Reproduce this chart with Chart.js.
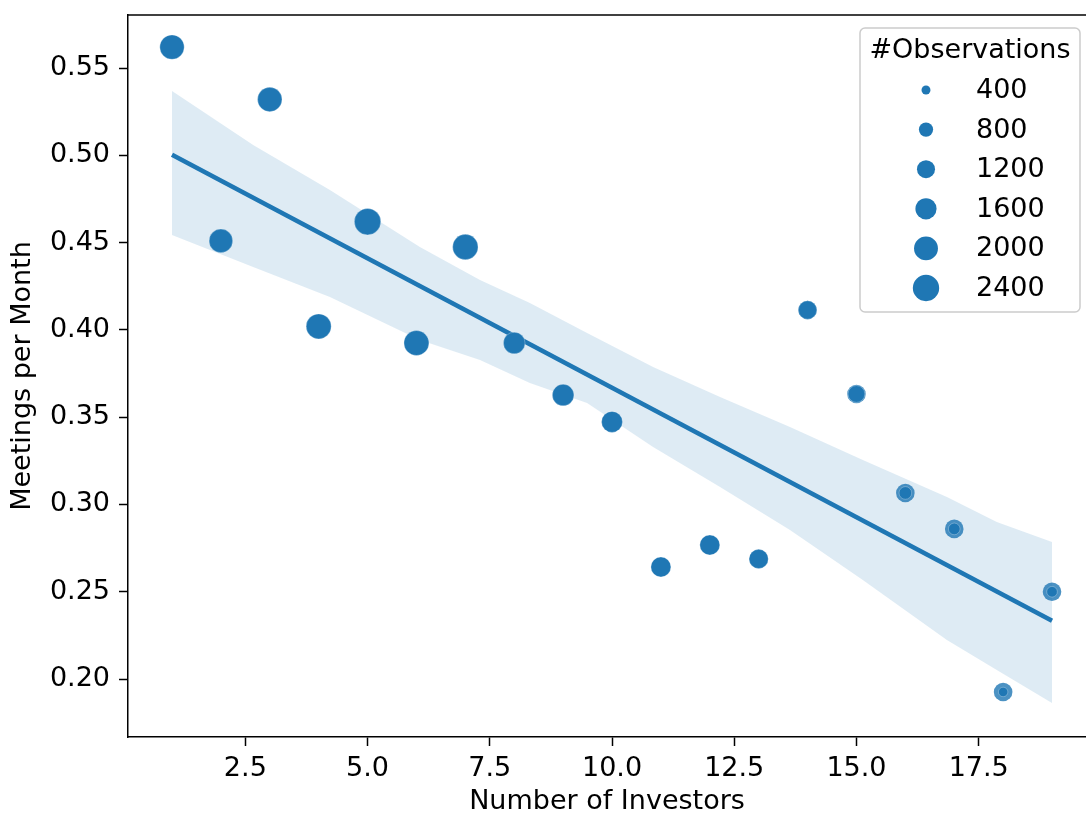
<!DOCTYPE html>
<html>
<head>
<meta charset="utf-8">
<script src="https://cdn.jsdelivr.net/npm/chart.js@4.4.1/dist/chart.umd.min.js"></script>
<style>
    body { margin: 0; background: #fff; overflow: hidden; }
    canvas { display: block; }
</style>
</head>
<body>
<canvas id="graphique" width="1086" height="815"></canvas>
<script>
// valeurs
const investors = [1, 2, 3, 4, 5, 6, 7, 8, 9, 10, 11, 12, 13, 14, 15, 16, 17, 18, 19];
const meetings = [0.562, 0.451, 0.532, 0.402, 0.462, 0.3925, 0.4475, 0.3925, 0.3627, 0.3473,
    0.2642, 0.2768, 0.2688, 0.4114, 0.3633, 0.3066, 0.286, 0.1926, 0.25];
const observations = [2080, 1950, 2080, 2175, 2410, 2175, 2240, 1660, 1660, 1575,
    1445, 1445, 1340, 1240, 1060, 660, 580, 430, 505];

// bande de confiance
const bandX = [1, 2.66, 4.23, 6.07, 7.3, 8.32, 9.49, 10.84, 12.21, 13.64, 15.13, 16.85, 17.87, 19];
const bandUpper = [0.5368, 0.5059, 0.4801, 0.4475, 0.4286, 0.4154, 0.3982, 0.3788, 0.3616, 0.3444, 0.3255, 0.3043, 0.29, 0.2785];
const bandLower = [0.4544, 0.436, 0.4188, 0.3942, 0.3828, 0.3696, 0.3581, 0.3329, 0.31, 0.2854, 0.2568, 0.2224, 0.2052, 0.1863];

const legendSizes = [400, 800, 1200, 1600, 2000, 2400];
const xTicks = [2.5, 5.0, 7.5, 10.0, 12.5, 15.0, 17.5];
const yTicks = [0.20, 0.25, 0.30, 0.35, 0.40, 0.45, 0.50, 0.55];

const C0 = '#1f77b4';
const FONT = 'DejaVu Sans';
const TAILLE = 27;

function rayon(obs) {
    return Math.sqrt(0.0767 * obs - 10.7);
}

// droite de regression (moindres carres)
const n = investors.length;
const mx = investors.reduce((a, b) => a + b, 0) / n;
const my = meetings.reduce((a, b) => a + b, 0) / n;
let sxy = 0, sxx = 0;
for (let i = 0; i < n; i++) {
    sxy += (investors[i] - mx) * (meetings[i] - my);
    sxx += (investors[i] - mx) * (investors[i] - mx);
}
const pente = sxy / sxx;
const origine = my - pente * mx;
const xMin = Math.min(...investors), xMax = Math.max(...investors);
const regLine = [{x: xMin, y: origine + pente * xMin}, {x: xMax, y: origine + pente * xMax}];

const points = investors.map((x, i) => ({x: x, y: meetings[i]}));

function sansPadding(scale) {
    scale.paddingTop = 0;
    scale.paddingBottom = 0;
    scale.paddingLeft = 0;
    scale.paddingRight = 0;
}

const legendePlugin = {
    id: 'legende',
    afterDraw(chart) {
        const ctx = chart.ctx;
        const area = chart.chartArea;
        // bordure du haut
        ctx.save();
        ctx.strokeStyle = '#000';
        ctx.lineWidth = 1.5;
        ctx.beginPath();
        ctx.moveTo(area.left - 0.75, area.top);
        ctx.lineTo(area.right, area.top);
        ctx.stroke();

        const bx = area.right - 226, by = area.top + 13, bw = 220, bh = 284;
        ctx.fillStyle = 'rgba(255,255,255,0.8)';
        ctx.strokeStyle = '#cccccc';
        ctx.lineWidth = 1.5;
        ctx.beginPath();
        ctx.roundRect(bx, by, bw, bh, 5);
        ctx.fill();
        ctx.stroke();

        ctx.fillStyle = '#000';
        ctx.font = TAILLE + 'px "' + FONT + '"';
        ctx.textAlign = 'center';
        ctx.textBaseline = 'middle';
        ctx.fillText('#Observations', bx + bw / 2, by + 23);

        ctx.textAlign = 'left';
        for (let i = 0; i < legendSizes.length; i++) {
            const cy = by + 62 + i * 39.6;
            ctx.fillStyle = C0;
            ctx.beginPath();
            ctx.arc(bx + 66, cy, rayon(legendSizes[i]), 0, Math.PI * 2);
            ctx.fill();
            ctx.fillStyle = '#000';
            ctx.fillText(String(legendSizes[i]), bx + 116, cy + 1);
        }
        ctx.restore();
    }
};

const ctx = document.getElementById('graphique').getContext('2d');
new Chart(ctx, {
    type: 'scatter',
    data: {
        datasets: [
            {
                label: 'haut',
                data: bandX.map((x, i) => ({x: x, y: bandUpper[i]})),
                showLine: true,
                pointRadius: 0,
                borderWidth: 0,
                borderColor: 'rgba(0,0,0,0)',
                backgroundColor: 'rgba(31,119,180,0.15)',
                fill: '+1',
                order: 4
            },
            {
                label: 'bas',
                data: bandX.map((x, i) => ({x: x, y: bandLower[i]})),
                showLine: true,
                pointRadius: 0,
                borderWidth: 0,
                borderColor: 'rgba(0,0,0,0)',
                fill: false,
                order: 5
            },
            {
                label: 'regression',
                data: regLine,
                showLine: true,
                pointRadius: 0,
                borderWidth: 4.6,
                borderColor: C0,
                fill: false,
                order: 3
            },
            {
                label: 'regplot',
                data: points,
                pointRadius: 9.3,
                pointBackgroundColor: 'rgba(31,119,180,0.8)',
                pointBorderWidth: 0,
                order: 2
            },
            {
                label: 'observations',
                data: points,
                pointRadius: observations.map(rayon),
                pointBackgroundColor: C0,
                pointBorderColor: 'rgba(255,255,255,0.35)',
                pointBorderWidth: 0.8,
                order: 1
            }
        ]
    },
    options: {
        responsive: false,
        animation: false,
        events: [],
        layout: {autoPadding: false, padding: {top: 15, right: 0, left: 0, bottom: 0}},
        plugins: {
            legend: {display: false},
            tooltip: {enabled: false}
        },
        scales: {
            x: {
                type: 'linear',
                min: 0.1,
                max: 19.695,
                afterFit(scale) { scale.height = 78; sansPadding(scale); },
                afterBuildTicks(scale) { scale.ticks = xTicks.map(v => ({value: v})); },
                grid: {drawOnChartArea: false, drawTicks: true, tickLength: 9, tickColor: '#000', tickWidth: 1.5},
                border: {display: true, color: '#000', width: 1.5},
                ticks: {
                    color: '#000',
                    padding: 7,
                    maxRotation: 0,
                    font: {family: FONT, size: TAILLE},
                    callback: v => v.toFixed(1)
                },
                title: {
                    display: true,
                    text: 'Number of Investors',
                    color: '#000',
                    padding: {top: 0, bottom: 0},
                    font: {family: FONT, size: TAILLE, lineHeight: 1}
                }
            },
            y: {
                type: 'linear',
                min: 0.1668,
                max: 0.5804,
                afterFit(scale) { scale.width = 128; sansPadding(scale); },
                afterBuildTicks(scale) { scale.ticks = yTicks.map(v => ({value: v})); },
                grid: {drawOnChartArea: false, drawTicks: true, tickLength: 9, tickColor: '#000', tickWidth: 1.5},
                border: {display: true, color: '#000', width: 1.5},
                ticks: {
                    color: '#000',
                    padding: 9,
                    font: {family: FONT, size: TAILLE},
                    callback: v => v.toFixed(2)
                },
                title: {
                    display: true,
                    text: 'Meetings per Month',
                    color: '#000',
                    padding: {top: 9, bottom: 0},
                    font: {family: FONT, size: TAILLE, lineHeight: 1}
                }
            }
        }
    },
    plugins: [legendePlugin]
});
</script>
</body>
</html>
